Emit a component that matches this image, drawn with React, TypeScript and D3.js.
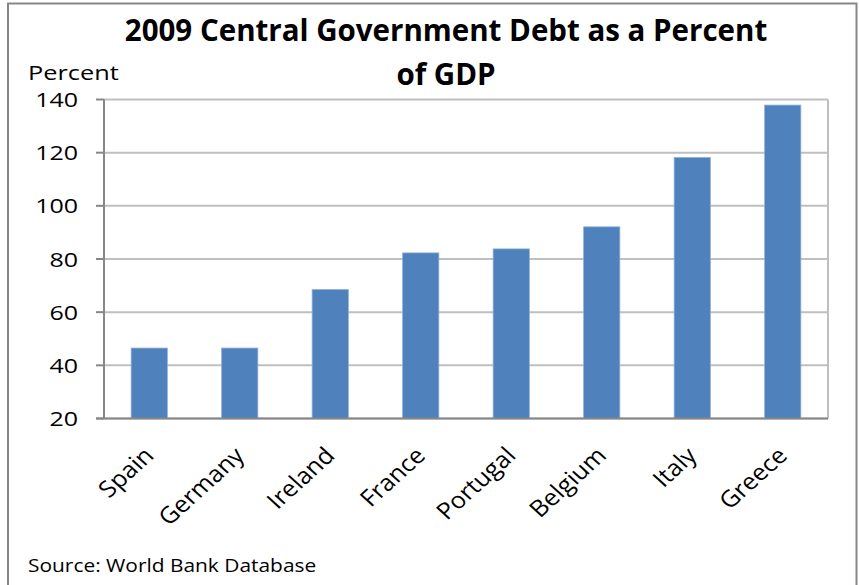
import React from "react";
import * as d3 from "d3";

const categories = ["Spain", "Germany", "Ireland", "France", "Portugal", "Belgium", "Italy", "Greece"];
const debtValues = [46.5, 46.5, 68.5, 82.3, 83.8, 92.1, 118.2, 137.9];
const yTicks = [20, 40, 60, 80, 100, 120, 140];
const titleLines = ["2009 Central Government Debt as a Percent", "of GDP"];
const yAxisLabel = "Percent";
const sourceNote = "Source: World Bank Database";

const W = 859;
const H = 585;
const plot = { left: 104, right: 828, top: 99.5, bottom: 418.5 };
const FONT = "'Open Sans', 'Noto Sans', sans-serif";

export default function App() {
  const x = d3.scaleBand<string>().domain(categories).range([plot.left, plot.right]).padding(0);
  const y = d3.scaleLinear().domain([20, 140]).range([plot.bottom, plot.top]);
  const barW = x.bandwidth() * 0.4;

  return (
    <svg width={W} height={H} style={{ position: "absolute", left: 0, top: 0, background: "#fff" }}>
      <rect x={0} y={0} width={W} height={H} fill="#fff" />
      <rect x={8} y={3.5} width={848.5} height={H + 10} fill="none" stroke="#878787" strokeWidth={2} />
      {/* title */}
      {titleLines.map((t, i) => (
        <text
          key={t}
          transform={`translate(446,${41 + i * 44})`}
          textAnchor="middle"
          fontFamily={FONT}
          fontWeight="bold"
          fontSize={29.5}
          fill="#000"
        >
          {t}
        </text>
      ))}
      <text transform={`translate(28,80) scale(1.3,1)`} fontFamily={FONT} fontSize={19.5} fill="#000">
        {yAxisLabel}
      </text>
      {/* gridlines */}
      {yTicks.map((v) => (
        <line key={"g" + v} x1={plot.left} x2={plot.right} y1={y(v)} y2={y(v)} stroke="#bfbfbf" strokeWidth={2} />
      ))}
      <line x1={plot.right} x2={plot.right} y1={plot.top} y2={plot.bottom} stroke="#bfbfbf" strokeWidth={2} />
      {/* bars */}
      {categories.map((c, i) => (
        <rect
          key={c}
          x={(x(c) as number) + x.bandwidth() / 2 - barW / 2}
          y={y(debtValues[i])}
          width={barW}
          height={y(20) - y(debtValues[i])}
          fill="#4f81bd"
          stroke="#8fb0d8"
          strokeWidth={0.8}
        />
      ))}
      {/* axes */}
      <line x1={plot.left} x2={plot.left} y1={plot.top} y2={plot.bottom} stroke="#878787" strokeWidth={2} />
      <line x1={96} x2={plot.right} y1={plot.bottom} y2={plot.bottom} stroke="#878787" strokeWidth={2} />
      {yTicks.map((v) => (
        <g key={"t" + v}>
          <line x1={96} x2={plot.left} y1={y(v)} y2={y(v)} stroke="#878787" strokeWidth={2} />
          <text
            transform={`translate(78,${y(v) + 7.5}) scale(1.25,1)`}
            textAnchor="end"
            fontFamily={FONT}
            fontSize={20}
            fill="#000"
          >
            {v}
          </text>
        </g>
      ))}
      {categories.map((c) => (
        <text
          key={"l" + c}
          transform={`translate(${(x(c) as number) + x.bandwidth() / 2 + 6},457) scale(1.1,1) rotate(-45)`}
          textAnchor="end"
          fontFamily={FONT}
          fontSize={23}
          fill="#000"
        >
          {c}
        </text>
      ))}
      <text transform={`translate(28,572) scale(1.1,1)`} fontFamily={FONT} fontSize={19} fill="#000">
        {sourceNote}
      </text>
    </svg>
  );
}
